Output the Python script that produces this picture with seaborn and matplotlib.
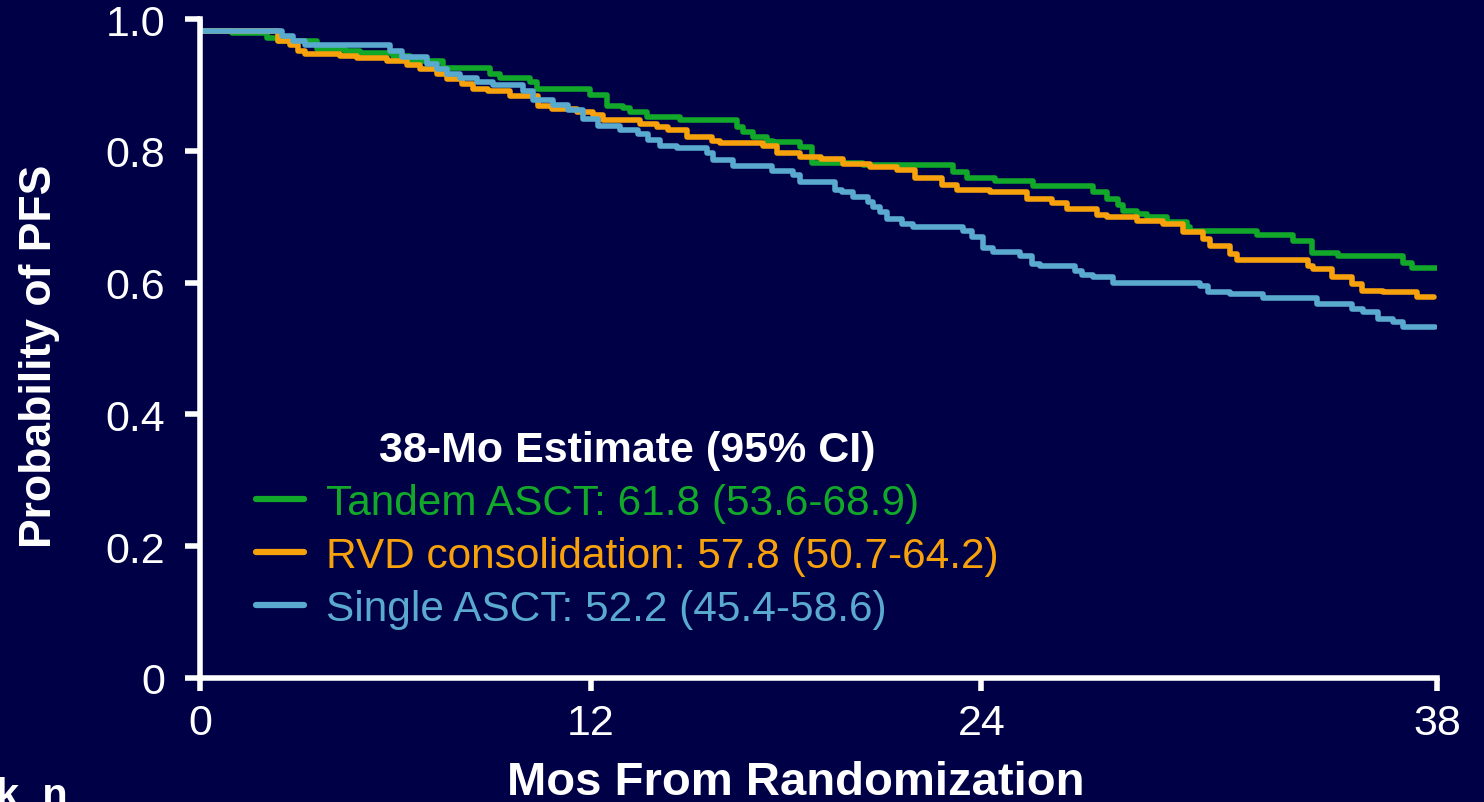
import numpy as np
import pandas as pd
import matplotlib
matplotlib.use("Agg")
import matplotlib.pyplot as plt
import seaborn as sns

# ---- data ----
tandem_t = [0, 0, 0.98, 2.06, 2.40, 3.59, 4.45, 4.92, 5.93, 6.45, 7.47, 8.91, 9.22, 10.14, 10.35,
            11.98, 12.50, 13.00, 13.21, 13.73, 14.75, 16.50, 16.68, 16.99, 17.42, 17.60, 18.43,
            18.80, 20.37, 23.13, 23.56, 24.42, 25.59, 27.43, 27.86, 28.20, 28.36, 28.79, 29.09,
            29.71, 30.32, 30.41, 32.47, 33.58, 34.16, 34.96, 36.96, 37.24, 38.0]
tandem_s = [1.0, 0.982, 0.979, 0.971, 0.966, 0.954, 0.951, 0.948, 0.944, 0.936, 0.926, 0.917, 0.910,
            0.904, 0.894, 0.885, 0.868, 0.865, 0.859, 0.851, 0.847, 0.836, 0.829, 0.821, 0.815,
            0.813, 0.806, 0.782, 0.778, 0.768, 0.759, 0.754, 0.747, 0.737, 0.727, 0.718, 0.709,
            0.704, 0.700, 0.692, 0.684, 0.678, 0.672, 0.663, 0.645, 0.640, 0.630, 0.622, 0.622]

rvd_t = [0, 0, 2.40, 2.76, 3.01, 3.23, 4.30, 4.82, 5.75, 6.36, 6.76, 7.28, 7.59, 8.05, 8.39, 8.85,
         9.52, 10.38, 10.81, 11.58, 12.07, 12.38, 13.52, 14.04, 14.38, 14.96, 15.73, 15.98, 17.30,
         17.73, 18.43, 19.08, 19.75, 20.58, 21.41, 21.97, 22.80, 23.26, 24.27, 25.41, 26.18, 26.64,
         27.56, 27.86, 28.79, 29.59, 30.20, 30.81, 31.03, 31.64, 31.86, 34.04, 34.19, 34.78, 35.39,
         35.70, 36.34, 37.39, 37.9]
rvd_s = [1.0, 0.982, 0.967, 0.961, 0.951, 0.947, 0.944, 0.941, 0.936, 0.930, 0.924, 0.917, 0.909,
         0.901, 0.894, 0.891, 0.883, 0.868, 0.863, 0.859, 0.854, 0.847, 0.841, 0.836, 0.832, 0.821,
         0.815, 0.812, 0.807, 0.797, 0.791, 0.788, 0.780, 0.775, 0.771, 0.759, 0.748, 0.741, 0.738,
         0.727, 0.721, 0.712, 0.703, 0.700, 0.693, 0.689, 0.677, 0.666, 0.656, 0.644, 0.634, 0.625,
         0.621, 0.608, 0.598, 0.587, 0.586, 0.578, 0.578]

single_t = [0, 0, 2.52, 2.86, 3.23, 5.84, 6.21, 6.97, 7.28, 7.59, 7.99, 8.51, 9.00, 9.92, 10.23,
            10.84, 11.31, 11.77, 12.23, 12.90, 13.46, 13.76, 14.13, 14.65, 15.58, 15.76, 16.37,
            17.57, 18.22, 18.43, 19.51, 19.72, 20.06, 20.52, 20.68, 20.89, 21.11, 21.57, 21.90,
            23.44, 23.72, 24.06, 24.36, 25.19, 25.56, 25.81, 26.88, 27.10, 27.43, 28.05, 30.72,
            30.97, 31.64, 32.66, 34.32, 35.39, 35.73, 36.19, 36.65, 36.96, 37.94]
single_s = [1.0, 0.982, 0.974, 0.967, 0.961, 0.951, 0.942, 0.932, 0.924, 0.917, 0.910, 0.904, 0.900,
            0.891, 0.877, 0.870, 0.862, 0.848, 0.838, 0.832, 0.825, 0.816, 0.807, 0.804, 0.797,
            0.786, 0.777, 0.769, 0.763, 0.753, 0.741, 0.737, 0.730, 0.722, 0.715, 0.707, 0.696,
            0.689, 0.684, 0.678, 0.669, 0.653, 0.646, 0.640, 0.628, 0.625, 0.618, 0.612, 0.608,
            0.599, 0.595, 0.586, 0.583, 0.577, 0.568, 0.560, 0.555, 0.545, 0.540, 0.533, 0.533]

arm_labels = ["Tandem ASCT: 61.8 (53.6-68.9)",
              "RVD consolidation: 57.8 (50.7-64.2)",
              "Single ASCT: 52.2 (45.4-58.6)"]
arm_colors = ["#12A82A", "#F7A20C", "#5AAAD0"]
legend_title = "38-Mo Estimate (95% CI)"
x_ticks = [0, 12, 24, 38]
y_ticks = [0, 0.2, 0.4, 0.6, 0.8, 1.0]
y_ticklabels = ["0", "0.2", "0.4", "0.6", "0.8", "1.0"]
x_label = "Mos From Randomization"
y_label = "Probability of PFS"
corner_text = "k, n"

bg = "#000046"

frames = []
for lab, t, s in zip(arm_labels, [tandem_t, rvd_t, single_t], [tandem_s, rvd_s, single_s]):
    frames.append(pd.DataFrame({"t": t, "s": s, "arm": lab}))
df = pd.concat(frames, ignore_index=True)

sns.set_theme(style="white")
plt.rcParams["font.family"] = ["Liberation Sans", "DejaVu Sans"]

fig = plt.figure(figsize=(14.84, 8.03), dpi=100, facecolor=bg)
ax = fig.add_axes([200 / 1484, 1 - 679 / 803, (1437 - 200) / 1484, (679 - 20) / 803])
ax.set_facecolor(bg)

sns.lineplot(data=df, x="t", y="s", hue="arm", hue_order=arm_labels,
             palette=dict(zip(arm_labels, arm_colors)), estimator=None, sort=False,
             units="arm", drawstyle="steps-post", linewidth=4.0, ax=ax, legend=True)

ax.set_xlim(0, 38)
ax.set_ylim(0, 1.0)
ax.set_xticks(x_ticks)
ax.set_xticklabels([str(v) for v in x_ticks])
ax.set_yticks(y_ticks)
ax.set_yticklabels(y_ticklabels)

for side in ["top", "right"]:
    ax.spines[side].set_visible(False)
for side in ["left", "bottom"]:
    ax.spines[side].set_color("white")
    ax.spines[side].set_linewidth(4.0)

ax.tick_params(axis="both", colors="white", labelsize=31, width=4.0, direction="out")
ax.tick_params(axis="y", length=11, pad=14, left=True)
ax.tick_params(axis="x", length=9, pad=9, bottom=True)

ax.set_xlabel(x_label, color="white", fontsize=34, fontweight="bold")
ax.xaxis.set_label_coords(0.482, -0.124)
ax.set_ylabel(y_label, color="white", fontsize=32, fontweight="bold")
ax.yaxis.set_label_coords(-0.113, 0.489)

handles, labels = ax.get_legend_handles_labels()
leg = ax.legend(handles, labels, title=legend_title, loc="upper left",
                bbox_to_anchor=(0.0144, 0.4346), frameon=False, fontsize=30.5,
                title_fontproperties={"weight": "bold", "size": 31},
                labelcolor="linecolor", handlelength=1.13, handletextpad=0.52,
                labelspacing=0.31)
leg.get_title().set_color("white")
for h in leg.get_lines():
    h.set_linewidth(4.5)

fig.text(-0.003, -0.005, corner_text, color="white", fontsize=30, fontweight="bold",
         ha="left", va="baseline")

fig.savefig("out.png", dpi=100, facecolor=bg)
